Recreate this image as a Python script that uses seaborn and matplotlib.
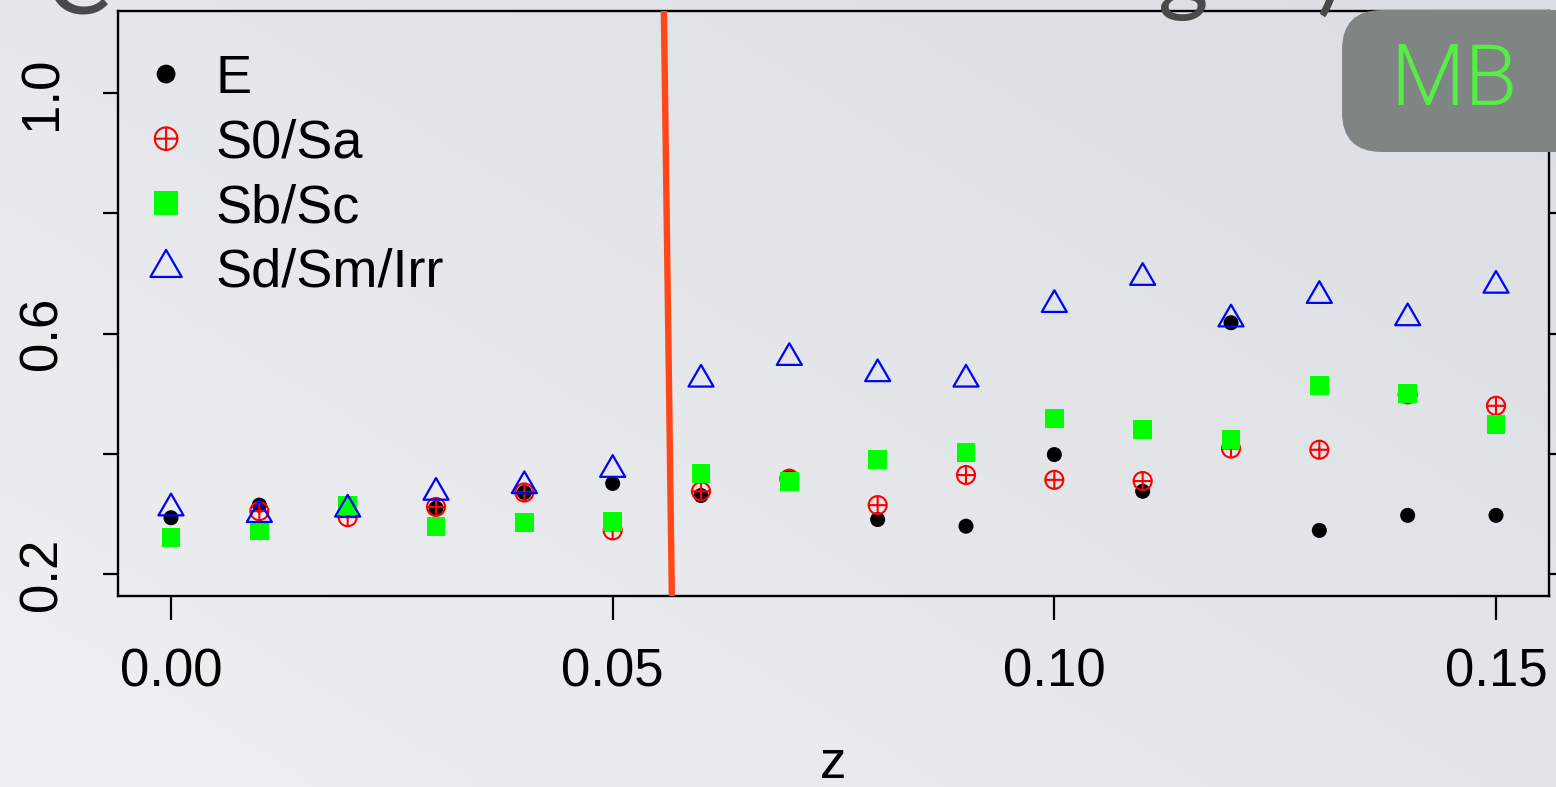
import numpy as np
import pandas as pd
import matplotlib
matplotlib.use("Agg")
import matplotlib.pyplot as plt
import matplotlib.path as mpath
from matplotlib.patches import FancyBboxPatch
import seaborn as sns

# Redshift bins
z = [0.00, 0.01, 0.02, 0.03, 0.04, 0.05, 0.06, 0.07,
     0.08, 0.09, 0.10, 0.11, 0.12, 0.13, 0.14, 0.15]

# Fraction per morphological class in each bin
frac_E = [0.294, 0.315, 0.312, 0.310, 0.336, 0.351, 0.331, 0.362,
          0.291, 0.280, 0.399, 0.338, 0.618, 0.273, 0.298, 0.298]
frac_S0Sa = [np.nan, 0.305, 0.295, 0.312, 0.336, 0.273, 0.338, 0.359,
             0.315, 0.365, 0.357, 0.355, 0.409, 0.407, 0.499, 0.480]
frac_SbSc = [0.262, 0.272, 0.315, 0.279, 0.286, 0.287, 0.367, 0.354,
             0.391, 0.402, 0.459, 0.441, 0.424, 0.514, 0.500, 0.449]
frac_SdSmIrr = [0.310, 0.299, 0.308, 0.336, 0.347, 0.374, 0.524, 0.560,
                0.533, 0.524, 0.648, 0.693, 0.624, 0.663, 0.626, 0.680]

series_labels = ["E", "S0/Sa", "Sb/Sc", "Sd/Sm/Irr"]

x_ticks = [0.00, 0.05, 0.10, 0.15]
x_tick_labels = ["0.00", "0.05", "0.10", "0.15"]
y_ticks = [0.2, 0.4, 0.6, 0.8, 1.0]
y_tick_labels = ["0.2", "", "0.6", "", "1.0"]

# Hand-drawn redshift cut (z at top and bottom of the panel)
cut_z_top, cut_z_bottom = 0.0558, 0.0567

badge_text = "MB"

df = pd.DataFrame({"z": z, series_labels[0]: frac_E, series_labels[1]: frac_S0Sa,
                   series_labels[2]: frac_SbSc, series_labels[3]: frac_SdSmIrr})

sns.set_theme(style="ticks")
plt.rcParams["font.family"] = ["Liberation Sans", "DejaVu Sans"]
for key in ("text.color", "axes.labelcolor", "xtick.color", "ytick.color", "axes.edgecolor"):
    plt.rcParams[key] = "black"

W, H = 1556, 787
fig = plt.figure(figsize=(W / 100, H / 100), dpi=100)

# Slide background: soft grey gradient, darker towards the upper right
bg = fig.add_axes([0, 0, 1, 1], zorder=-10)
u = np.linspace(0, 1, 400)[None, :]
w = np.linspace(0, 1, 200)[:, None]
d = np.clip(0.55 * u + 0.45 * w, 0, 1)
light = np.array([0xEF, 0xF0, 0xF2]) / 255
dark = np.array([0xDA, 0xDE, 0xE2]) / 255
img = light[None, None, :] * (1 - d[..., None]) + dark[None, None, :] * d[..., None]
bg.imshow(img, origin="lower", extent=[0, 1, 0, 1], aspect="auto")
bg.axis("off")

ax = fig.add_axes([118 / W, (H - 596) / H, (1549 - 118) / W, (596 - 11) / H])
ax.set_facecolor("none")

# Marker shapes: triangle centred on its centroid, circle with a cross
tri = mpath.Path([(0, 1), (-0.866, -0.5), (0.866, -0.5), (0, 1)],
                 [mpath.Path.MOVETO, mpath.Path.LINETO, mpath.Path.LINETO, mpath.Path.CLOSEPOLY])
oplus = mpath.Path.make_compound_path(
    mpath.Path.unit_circle(),
    mpath.Path([(-1, 0), (1, 0)]),
    mpath.Path([(0, -1), (0, 1)]),
)

sns.scatterplot(data=df, x="z", y="E", ax=ax, marker="o", s=117, color="black",
                edgecolor="none", linewidth=0, label="E", legend=False, zorder=3)
sns.scatterplot(data=df, x="z", y="S0/Sa", ax=ax, marker=oplus, s=169, color="red",
                facecolor="none", edgecolor="red", linewidth=1.5, label="S0/Sa",
                legend=False, zorder=4)
sns.scatterplot(data=df, x="z", y="Sb/Sc", ax=ax, marker="s", s=187, color="#00FF00",
                edgecolor="none", linewidth=0, label="Sb/Sc", legend=False, zorder=5)
sns.scatterplot(data=df, x="z", y="Sd/Sm/Irr", ax=ax, marker=tri, s=433, color="blue",
                facecolor="none", edgecolor="blue", linewidth=1.6, label="Sd/Sm/Irr",
                legend=False, zorder=6)

ax.set_xlim(-0.006, 0.156)
ax.set_ylim(0.164, 1.136)
ylo, yhi = ax.get_ylim()
ax.plot([cut_z_top, cut_z_bottom], [yhi, ylo], color="#FF4719", lw=4.6,
        solid_capstyle="butt", zorder=7)

ax.set_xticks(x_ticks, x_tick_labels)
ax.set_yticks(y_ticks, y_tick_labels)
ax.tick_params(axis="x", length=17, width=1.6, pad=20, labelsize=38, direction="out")
ax.tick_params(axis="y", length=11, width=1.6, pad=25, labelsize=38, direction="out",
               right=True, labelright=False)
for lab in ax.get_yticklabels():
    lab.set_rotation(90)
    lab.set_va("center")
for sp in ax.spines.values():
    sp.set_visible(True)
    sp.set_linewidth(1.7)
    sp.set_color("black")

ax.set_xlabel("z", fontsize=38, labelpad=30)
ax.set_ylabel("")

ax.legend(loc="upper left", bbox_to_anchor=(139 / W, 1 - 54 / H),
          bbox_transform=fig.transFigure, frameon=False, fontsize=39,
          handlelength=1.0, handletextpad=0.42, labelspacing=0.27, borderpad=0,
          borderaxespad=0, markerscale=1.25, scatterpoints=1, scatteryoffsets=[0.5])

# Slide title remnants above the panel
title_kw = dict(fontsize=70, color="#4A4A4A", family=["Lato", "DejaVu Sans"],
                fontweight="normal", va="baseline", ha="left")
fig.text(44 / W, 1 - 13 / H, "C", **title_kw)
fig.text(1158 / W, 1 - 3 / H, "g", **title_kw)
fig.text(1317 / W, 1 - 3 / H, ")", **title_kw)

# Rounded corner badge
badge = FancyBboxPatch((13.42, (H - 152) / 100), 3.0, 1.42,
                       boxstyle="round,pad=0,rounding_size=0.4",
                       transform=fig.dpi_scale_trans, facecolor="#7F8582",
                       edgecolor="none", zorder=20)
fig.add_artist(badge)
fig.text(1454 / W, 1 - 82 / H, badge_text, fontsize=62, color="#55EE44",
         family=["Roboto", "DejaVu Sans"], fontweight=300,
         ha="center", va="center", zorder=21)

fig.savefig("out.png", dpi=100)
